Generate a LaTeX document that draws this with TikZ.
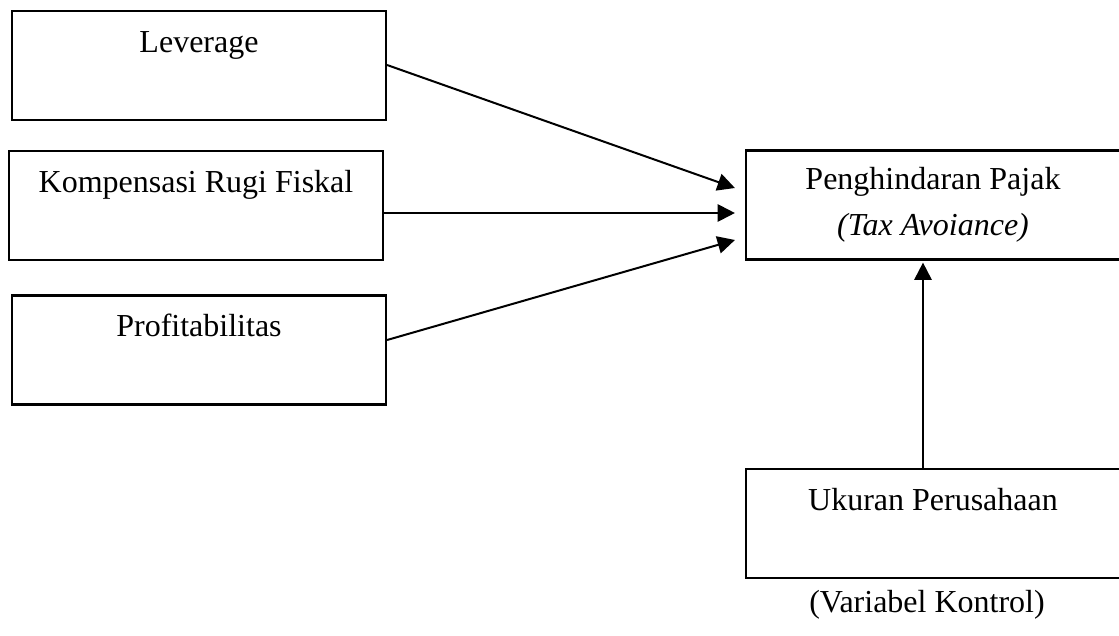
\documentclass[tikz,border=0pt]{standalone}
\usepackage{fontspec}
\setmainfont{Liberation Serif}
\usetikzlibrary{calc}
\usetikzlibrary{arrows.meta}

\begin{document}
\begin{tikzpicture}[x=0.375pt,y=-0.375pt,
    varbox/.style={draw, line width=0.8pt, minimum width=140.25pt, minimum height=40.9pt,
        inner sep=0pt, align=center, font=\fontsize{12}{17.25}\selectfont},
    onebox/.style={varbox, text height=8pt, text depth=18pt},
    link/.style={line width=0.75pt, -{Triangle[length=6.5pt,width=6.5pt]}}]
        \clip (0,0) rectangle (1119,636);
        % independent variables
        \node[onebox] (lev) at (199,65.5) {Leverage};
        \node[onebox] (komp) at (196,205.5) {Kompensasi Rugi Fiskal};
        \node[onebox] (prof) at (199,350) {Profitabilitas};
        % dependent and control
        \node[varbox] (tax) at (933,205) {Penghindaran Pajak\\\textit{(Tax Avoiance)}};
        \node[onebox] (size) at (933,523.5) {Ukuran Perusahaan};
        \node[font=\fontsize{12}{14}\selectfont] (ctrl) at (927,605) {(Variabel Kontrol)};

        \draw[link] ($(lev.east)+(0,-0.5)$) -- ($(tax.west)+(-10,-17)$);
        \draw[link] ($(komp.east)+(0,7.5)$) -- ($(tax.west)+(-10,8)$);
        \draw[link] ($(prof.east)+(0,-10)$) -- ($(tax.west)+(-10,35)$);
        \draw[link] ($(size.north)+(-10,0)$) -- ($(tax.south)+(-10,2)$);
    \end{tikzpicture}
\end{document}
